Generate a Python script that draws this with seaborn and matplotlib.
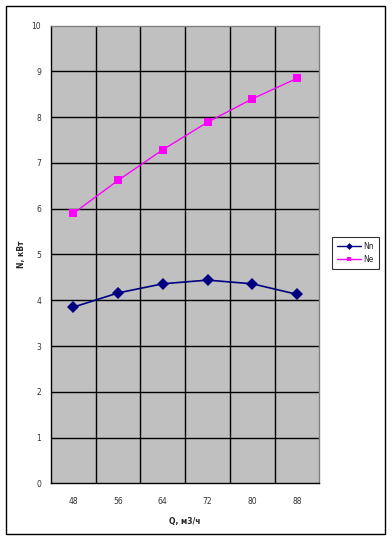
import matplotlib
matplotlib.use("Agg")
import matplotlib.pyplot as plt
import seaborn as sns
import pandas as pd
from matplotlib.patches import Rectangle
from matplotlib.lines import Line2D

q = [48, 56, 64, 72, 80, 88]
nn = [3.85, 4.16, 4.36, 4.44, 4.36, 4.13]
ne = [5.90, 6.62, 7.29, 7.89, 8.40, 8.85]
series_names = ["Nn", "Ne"]
y_ticks = list(range(0, 11))

sns.set_style("white")
plt.rcParams["font.family"] = ["DejaVu Sans"]

df = pd.concat([
    pd.DataFrame({"Q": q, "N": nn, "series": series_names[0]}),
    pd.DataFrame({"Q": q, "N": ne, "series": series_names[1]}),
])

fig = plt.figure(figsize=(3.92, 5.40), dpi=100)
fig.patches.append(Rectangle((6 / 392, 1 - 534 / 540), (385 - 6) / 392, (534 - 6) / 540,
                             transform=fig.transFigure, fill=False, edgecolor="black", linewidth=1.0))

ax = fig.add_axes([51 / 392, 1 - 483.3 / 540, (319.3 - 51) / 392, (483.3 - 25.7) / 540])
ax.set_facecolor("#C0C0C0")

sns.lineplot(data=df, x="Q", y="N", hue="series", style="series",
             palette={"Nn": "#000080", "Ne": "#FF00FF"},
             markers={"Nn": "D", "Ne": "s"}, dashes=False,
             markersize=5.5, linewidth=1.0, markeredgewidth=0, ax=ax, legend=False)
for ln in ax.lines:
    if ln.get_marker() == "D":
        ln.set_markersize(6.2)
        ln.set_linewidth(1.2)

ax.set_xlim(44, 92)
ax.set_ylim(0, 10)
ax.set_xticks(q)
ax.set_xticklabels([str(v) for v in q])
ax.set_xticks([52, 60, 68, 76, 84], minor=True)
ax.set_yticks(y_ticks)
ax.tick_params(axis="x", which="major", length=0, labelsize=5.5, pad=10, colors="#333333")
ax.tick_params(axis="x", which="minor", length=3, width=0.8, color="black", direction="out")
ax.tick_params(axis="y", which="major", length=3, width=0.8, color="black", labelsize=5.5,
               direction="out", pad=4, labelcolor="#333333")
ax.grid(False)
for v in [52, 60, 68, 76, 84]:
    ax.axvline(v, color="black", linewidth=1.0, zorder=1)
for v in y_ticks[1:-1]:
    ax.axhline(v, color="black", linewidth=1.0, zorder=1)
for s in ["left", "bottom"]:
    ax.spines[s].set_color("black")
    ax.spines[s].set_linewidth(1.0)
for s in ["top", "right"]:
    ax.spines[s].set_color("#808080")
    ax.spines[s].set_linewidth(1.0)

ax.set_xlabel("Q, м3/ч", fontsize=5.5, fontweight="bold", labelpad=8)
ax.set_ylabel("N, кВт", fontsize=5.5, fontweight="bold", labelpad=4)

handles = [Line2D([], [], color="#000080", marker="D", markersize=3.5, linewidth=1.0, markeredgewidth=0),
           Line2D([], [], color="#FF00FF", marker="s", markersize=3.5, linewidth=1.0, markeredgewidth=0)]
leg = fig.legend(handles, series_names, loc="upper left",
                 bbox_to_anchor=(332 / 392, 1 - 237 / 540), fontsize=5.5,
                 frameon=True, fancybox=False, edgecolor="black", borderpad=0.6,
                 handlelength=3.2, handletextpad=0.3, labelspacing=0.6, borderaxespad=0)
leg.get_frame().set_linewidth(0.8)

fig.savefig("out.png", dpi=100)
